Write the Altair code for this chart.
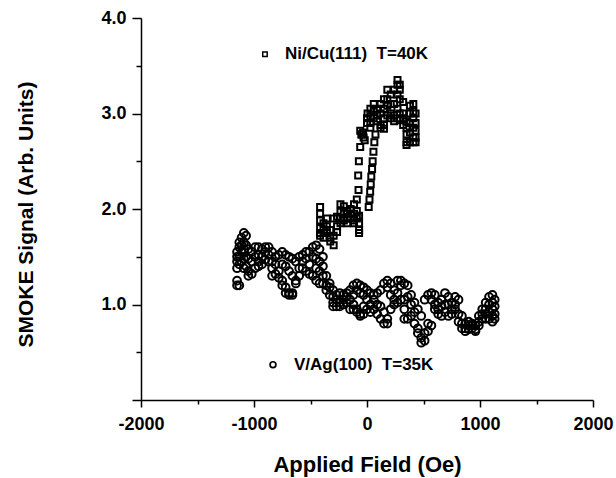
import altair as alt
import pandas as pd

# Ni/Cu(111) T=40K  (squares)
sq_x = [
    -415, -415, -415, -415, -415, -415,
    -385, -385, -385,
    -355, -355, -355,
    -325, -325, -325,
    -295, -295, -295,
    -265, -265, -265,
    -235, -235, -235, -235,
    -205, -205, -205,
    -175, -175, -175,
    -145, -145, -145,
    -115, -115, -115, -115,
    -90, -90, -90,
    -70, -70, -70, -70,
    -75, -78, -72, -60, -50,
    15, 22, 28, 33, 38, 45, 50, 57, 65, 75,
    -60, -45, -30, -20, -35,
    0, 5, 0,
    30, 30, 30, 30,
    60, 60, 60,
    90, 90, 90,
    120, 120, 120, 120,
    150, 150, 150, 150, 150,
    180, 180, 180, 180,
    210, 210, 210, 210,
    240, 240, 240, 240,
    270, 270, 270, 270, 270,
    290, 290, 290, 290, 290,
    320, 320, 320, 320,
    350, 350, 350, 350, 350,
    380, 380, 380, 380, 380,
    410, 410, 410, 410, 410, 410,
    430, 430, 430, 430, 430,
]
sq_y = [
    2.02, 1.95, 1.88, 1.80, 1.75, 1.72,
    1.85, 1.78, 1.70,
    1.90, 1.82, 1.75,
    1.78, 1.70, 1.66,
    1.90, 1.72, 1.62,
    1.92, 1.82, 1.76,
    2.05, 1.97, 1.90, 1.85,
    2.03, 1.95, 1.88,
    1.98, 1.90, 1.85,
    1.95, 2.00, 1.90,
    2.05, 1.95, 1.88, 1.85,
    2.10, 1.98, 1.90,
    1.78, 1.85, 1.75, 1.93,
    2.20, 2.35, 2.50, 2.65, 2.78,
    2.02, 2.10, 2.18, 2.26, 2.34, 2.42, 2.50, 2.60, 2.70, 2.78,
    2.82, 2.78, 2.75, 2.72, 2.80,
    2.95, 3.00, 2.90,
    3.05, 2.97, 2.90, 2.85,
    3.10, 3.02, 2.95,
    3.05, 2.98, 2.92,
    3.10, 3.00, 2.88, 2.85,
    3.15, 3.05, 2.95, 2.88, 2.84,
    3.25, 3.15, 3.08, 2.98,
    3.20, 3.10, 3.00, 2.95,
    3.25, 3.10, 2.98, 2.92,
    3.35, 3.30, 3.20, 3.05, 2.95,
    3.30, 3.25, 3.15, 3.00, 2.93,
    3.12, 3.00, 2.95, 2.88,
    2.92, 2.85, 2.78, 2.70, 2.67,
    3.08, 3.00, 2.90, 2.80, 2.70,
    3.10, 3.02, 2.95, 2.85, 2.75, 2.70,
    3.00, 2.90, 2.82, 2.75, 2.70,
]

# V/Ag(100) T=35K  (circles)
ci_x = [
    -1150, -1150, -1150, -1150, -1150, -1150,
    -1130, -1130, -1130, -1130, -1130,
    -1110, -1110, -1110, -1110,
    -1090, -1090, -1090, -1090, -1090,
    -1070, -1070, -1070, -1070,
    -1050, -1050, -1050, -1050,
    -1020, -1020, -1020,
    -990, -990, -990,
    -960, -960, -960, -960,
    -930, -930, -930,
    -900, -900, -900,
    -870, -870, -870,
    -840, -840, -840, -840,
    -810, -810, -810,
    -780, -780, -780,
    -750, -750, -750, -750,
    -720, -720, -720, -720,
    -690, -690, -690, -690,
    -660, -660, -660, -660,
    -630, -630, -630,
    -600, -600, -600,
    -570, -570, -570,
    -540, -540, -540,
    -510, -510, -510,
    -480, -480, -480,
    -450, -450, -450, -450,
    -420, -420, -420, -420,
    -390, -390, -390, -390,
    -360, -360, -360,
    -330, -330, -330,
    -300, -300, -300, -300,
    -270, -270, -270,
    -240, -240, -240,
    -210, -210, -210,
    -180, -180, -180,
    -150, -150, -150,
    -120, -120, -120, -120,
    -90, -90, -90, -90,
    -60, -60, -60, -60,
    -30, -30, -30, -30,
    0, 0, 0,
    30, 30, 30,
    60, 60, 60,
    90, 90, 90,
    120, 120, 120,
    150, 150, 150,
    180, 180, 180, 180,
    210, 210, 210,
    240, 240, 240,
    270, 270, 270,
    300, 300, 300,
    330, 330, 330, 330,
    360, 360, 360,
    390, 390, 390,
    420, 420, 420,
    450, 450, 450,
    480, 480, 480,
    510, 510, 510,
    540, 540, 540,
    570, 570, 570,
    600, 600, 600,
    630, 630, 630,
    660, 660, 660,
    690, 690, 690,
    720, 720, 720,
    750, 750, 750,
    780, 780, 780,
    810, 810, 810,
    840, 840, 840,
    870, 870, 870,
    900, 900, 900,
    930, 930, 930,
    960, 960, 960,
    990, 990, 990,
    1020, 1020, 1020,
    1050, 1050, 1050, 1050,
    1080, 1080, 1080, 1080,
    1110, 1110, 1110, 1110, 1110,
    1130, 1130, 1130, 1130,
]
ci_y = [
    1.55, 1.50, 1.45, 1.38, 1.25, 1.20,
    1.65, 1.60, 1.50, 1.42, 1.20,
    1.70, 1.62, 1.55, 1.45,
    1.75, 1.65, 1.58, 1.48, 1.38,
    1.72, 1.62, 1.50, 1.40,
    1.58, 1.48, 1.35, 1.30,
    1.55, 1.45, 1.32,
    1.60, 1.50, 1.38,
    1.60, 1.52, 1.45, 1.40,
    1.58, 1.50, 1.42,
    1.60, 1.55, 1.47,
    1.60, 1.52, 1.45,
    1.55, 1.45, 1.38, 1.30,
    1.50, 1.42, 1.32,
    1.52, 1.35, 1.28,
    1.55, 1.42, 1.25, 1.20,
    1.52, 1.40, 1.18, 1.12,
    1.50, 1.35, 1.12, 1.10,
    1.48, 1.30, 1.12, 1.10,
    1.45, 1.25, 1.22,
    1.50, 1.38, 1.30,
    1.52, 1.45, 1.38,
    1.55, 1.48, 1.35,
    1.55, 1.42, 1.32,
    1.60, 1.50, 1.30,
    1.62, 1.48, 1.38, 1.25,
    1.58, 1.45, 1.35, 1.22,
    1.50, 1.40, 1.30, 1.22,
    1.30, 1.20, 1.15,
    1.22, 1.18, 1.10,
    1.15, 1.08, 1.02, 0.98,
    1.10, 1.05, 0.98,
    1.12, 1.02, 0.98,
    1.10, 1.05, 1.00,
    1.12, 1.08, 1.02,
    1.15, 1.05, 0.95,
    1.20, 1.10, 1.00, 0.95,
    1.22, 1.15, 0.95, 0.92,
    1.20, 1.12, 0.90, 0.88,
    1.18, 1.10, 0.98, 0.90,
    1.15, 1.05, 0.95,
    1.12, 1.00, 0.92,
    1.10, 1.05, 0.95,
    1.12, 1.00, 0.90,
    1.15, 0.98, 0.85,
    1.22, 0.92, 0.80,
    1.25, 1.18, 0.85, 0.80,
    1.22, 1.10, 0.95,
    1.15, 1.05, 1.00,
    1.25, 1.12, 1.02,
    1.25, 1.20, 1.05,
    1.22, 1.05, 0.95, 0.85,
    1.20, 1.08, 0.85,
    1.10, 1.00, 0.88,
    1.02, 0.92, 0.80,
    0.95, 0.75, 0.70,
    0.88, 0.65, 0.60,
    1.05, 0.70, 0.62,
    1.10, 0.80, 0.72,
    1.12, 1.05, 0.78,
    1.10, 1.00, 0.95,
    1.02, 0.95, 0.90,
    1.05, 0.98, 0.88,
    1.12, 1.00, 0.92,
    1.08, 1.00, 0.88,
    1.02, 0.95, 0.90,
    1.08, 1.00, 0.95,
    1.05, 0.90, 0.82,
    0.88, 0.80, 0.75,
    0.80, 0.75, 0.72,
    0.82, 0.78, 0.74,
    0.80, 0.78, 0.75,
    0.78, 0.74, 0.72,
    0.88, 0.82, 0.78,
    0.95, 0.90, 0.85,
    1.02, 0.95, 0.90, 0.85,
    1.08, 1.00, 0.92, 0.85,
    1.10, 1.02, 0.95, 0.88, 0.82,
    1.05, 0.98, 0.90, 0.85,
]

label_ni = "Ni/Cu(111)\u00a0\u00a0T=40K"
label_v = "V/Ag(100)\u00a0\u00a0T=35K"

sq = pd.DataFrame({"x": sq_x, "y": sq_y})
ci = pd.DataFrame({"x": ci_x, "y": ci_y})

FONT = "Liberation Sans"

xaxis = alt.Axis(
    values=list(range(-2000, 2001, 500)),
    labelExpr="datum.value % 1000 === 0 ? '' + datum.value : ''",
    tickSize={"condition": {"test": "datum.value % 1000 === 0", "value": 7}, "value": 4},
    tickColor="black", tickWidth=1.5, domainColor="black", domainWidth=1.5,
    labelFont=FONT, labelFontWeight="bold", labelFontSize=18, labelColor="black",
    labelPadding=8, labelFlush=False, labelOverlap=False,
    title="Applied Field (Oe)", titleFont=FONT, titleFontWeight="bold",
    titleFontSize=22, titleColor="black", titleY=64, titleBaseline="middle",
    grid=False,
)
yaxis = alt.Axis(
    values=[0, 0.5, 1, 1.5, 2, 2.5, 3, 3.5, 4],
    labelExpr="datum.value % 1 === 0 && datum.value > 0 ? format(datum.value, '.1f') : ''",
    tickSize={"condition": {"test": "datum.value % 1 === 0", "value": 9}, "value": 5},
    tickColor="black", tickWidth=1.5, domainColor="black", domainWidth=1.5,
    labelFont=FONT, labelFontWeight="bold", labelFontSize=18, labelColor="black",
    labelPadding=6, labelFlush=False, labelOverlap=False,
    title="SMOKE Signal (Arb. Units)", titleFont=FONT, titleFontWeight="bold",
    titleFontSize=21, titleColor="black", titleX=-115, titleY=196,
    titleAlign="center", titleBaseline="middle", titleAngle=270,
    grid=False,
)

X = alt.X("x:Q", scale=alt.Scale(domain=[-2000, 2000], nice=False, zero=False), axis=xaxis)
Y = alt.Y("y:Q", scale=alt.Scale(domain=[0, 4], nice=False, zero=False), axis=yaxis)

squares = alt.Chart(sq).mark_point(
    shape="square", filled=False, color="black", strokeWidth=2, size=36, opacity=1
).encode(x=X, y=Y)

circles = alt.Chart(ci).mark_point(
    shape="circle", filled=False, color="black", strokeWidth=2, size=60, opacity=1
).encode(x=X, y=Y)

leg_sq = alt.Chart().mark_point(
    shape="square", filled=False, color="black", strokeWidth=1.5, size=20, opacity=1
).encode(x=alt.datum(-903), y=alt.datum(3.62))
leg_sq_t = alt.Chart().mark_text(
    align="left", baseline="middle", font=FONT, fontWeight="bold", fontSize=17, color="black"
).encode(x=alt.datum(-726), y=alt.datum(3.62), text=alt.datum(label_ni))

leg_ci = alt.Chart().mark_point(
    shape="circle", filled=False, color="black", strokeWidth=1.7, size=34, opacity=1
).encode(x=alt.datum(-832), y=alt.datum(0.37))
leg_ci_t = alt.Chart().mark_text(
    align="left", baseline="middle", font=FONT, fontWeight="bold", fontSize=17, color="black"
).encode(x=alt.datum(-646), y=alt.datum(0.37), text=alt.datum(label_v))

chart = alt.layer(circles, squares, leg_sq, leg_sq_t, leg_ci, leg_ci_t).properties(
    width=452, height=382,
    padding={"left": 141, "top": 18, "right": 23, "bottom": 78},
    autosize=alt.AutoSizeParams(type="none"),
    background="white",
).configure_view(strokeWidth=0)

chart.save("out.html", embed_options={"renderer": "svg", "actions": False})
